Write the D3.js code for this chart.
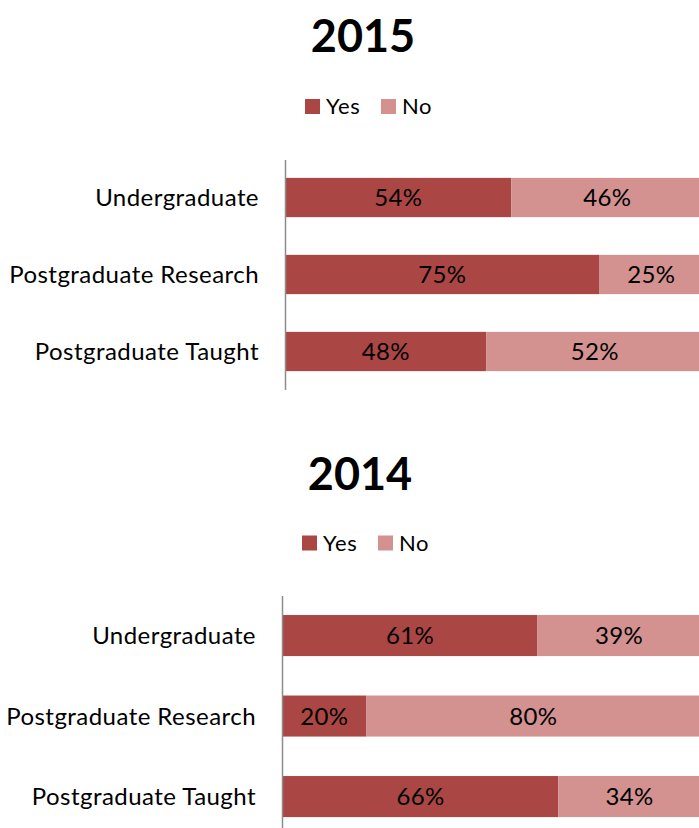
<!DOCTYPE html>
<html>
<head>
<meta charset="utf-8">
<script src="https://cdn.jsdelivr.net/npm/d3@7"></script>
<style>
  html, body { margin: 0; padding: 0; background: #fff; }
  svg { display: block; font-family: Lato, "Open Sans", sans-serif; }
</style>
</head>
<body>
<svg id="chart" width="699" height="828"></svg>
<script>
// Survey responses by study level, two years
const categories = ["Undergraduate", "Postgraduate Research", "Postgraduate Taught"];
const seriesNames = ["Yes", "No"];
const yes2015 = [54, 75, 48];
const no2015  = [46, 25, 52];
const yes2014 = [61, 20, 66];
const no2014  = [39, 80, 34];
const years = ["2015", "2014"];

const colors = { Yes: "#AA4744", No: "#D39190" };

const svg = d3.select("#chart");

// Layout for each panel
const panels = [
  { year: years[0], yes: yes2015, no: no2015,
    titleX: 363, titleY: 52, legendX: 305, legendY: 106.5,
    axisX: 285.5, yRange: [159, 390], axisTop: 160, axisBottom: 390, fullWidth: 418, labelX: 259 },
  { year: years[1], yes: yes2014, no: no2014,
    titleX: 360, titleY: 490, legendX: 302, legendY: 543,
    axisX: 282.5, yRange: [595.3, 836.8], axisTop: 596, axisBottom: 830, fullWidth: 418, labelX: 256 }
];

panels.forEach(p => {
  const g = svg.append("g");

  // Title
  g.append("text")
    .attr("x", p.titleX).attr("y", p.titleY)
    .attr("text-anchor", "middle")
    .attr("font-size", 45).attr("font-weight", 700)
    .attr("fill", "#000")
    .text(p.year);

  // Legend
  const legend = g.append("g").attr("transform", `translate(${p.legendX},${p.legendY})`);
  const legendOffsets = [0, 76];
  seriesNames.forEach((name, i) => {
    const li = legend.append("g").attr("transform", `translate(${legendOffsets[i]},0)`);
    li.append("rect").attr("x", 0).attr("y", -7.5).attr("width", 15).attr("height", 15).attr("fill", colors[name]);
    li.append("text").attr("x", 21).attr("y", 0).attr("dy", "0.36em")
      .attr("font-size", 22).attr("letter-spacing", 0.6).attr("fill", "#000").text(name);
  });

  // Scales
  const x = d3.scaleLinear().domain([0, 100]).range([p.axisX, p.axisX + p.fullWidth]);
  const y = d3.scaleBand().domain(categories).range(p.yRange)
    .paddingInner(0.49).paddingOuter(0.245);

  // Stack the Yes/No shares
  const rows = categories.map((c, i) => ({ category: c, Yes: p.yes[i], No: p.no[i] }));
  const stacked = d3.stack().keys(seriesNames)(rows);

  stacked.forEach(layer => {
    const key = layer.key;
    const lg = g.append("g");
    lg.selectAll("rect").data(layer).join("rect")
      .attr("x", d => x(d[0]))
      .attr("y", d => y(d.data.category))
      .attr("width", d => x(d[1]) - x(d[0]))
      .attr("height", y.bandwidth())
      .attr("fill", colors[key]);
    lg.selectAll("text").data(layer).join("text")
      .attr("x", d => (x(d[0]) + x(d[1])) / 2)
      .attr("y", d => y(d.data.category) + y.bandwidth() / 2)
      .attr("dy", "0.36em")
      .attr("text-anchor", "middle")
      .attr("font-size", 24).attr("letter-spacing", 0.3).attr("fill", "#000")
      .text(d => (d[1] - d[0]) + "%");
  });

  // Category axis: plain vertical line with labels, no ticks
  g.append("line")
    .attr("x1", p.axisX).attr("x2", p.axisX)
    .attr("y1", p.axisTop).attr("y2", p.axisBottom)
    .attr("stroke", "#8c8c8c").attr("stroke-width", 1.5);

  g.selectAll("text.cat").data(categories).join("text")
    .attr("class", "cat")
    .attr("x", p.labelX)
    .attr("y", d => y(d) + y.bandwidth() / 2)
    .attr("dy", "0.36em")
    .attr("text-anchor", "end")
    .attr("font-size", 24).attr("letter-spacing", 0.45).attr("fill", "#000")
    .text(d => d);
});
</script>
</body>
</html>
